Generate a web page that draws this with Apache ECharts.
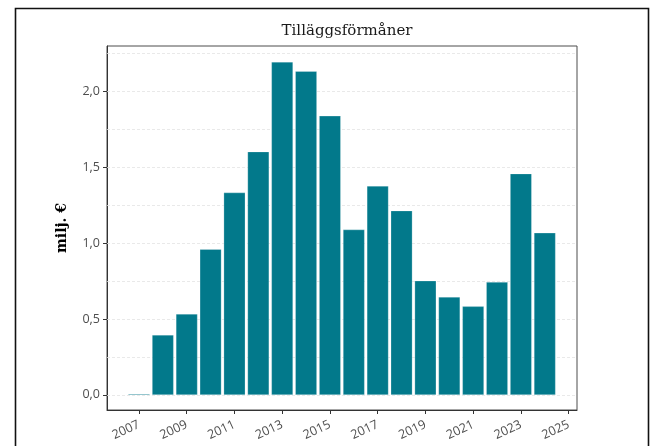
<!DOCTYPE html>
<html>
<head>
<meta charset="utf-8">
<script src="https://cdn.jsdelivr.net/npm/echarts@6/dist/echarts.min.js"></script>
<style>
  html, body { margin: 0; padding: 0; background: #fff; }
  #chart { width: 652px; height: 446px; }
</style>
</head>
<body>
<div id="chart"></div>
<script>
// årtal och värden (milj. €)
const years = [2007, 2008, 2009, 2010, 2011, 2012, 2013, 2014, 2015, 2016, 2017, 2018, 2019, 2020, 2021, 2022, 2023, 2024]
const values = [0.004, 0.395, 0.533, 0.96, 1.333, 1.603, 2.195, 2.133, 1.839, 1.089, 1.377, 1.214, 0.752, 0.645, 0.583, 0.743, 1.458, 1.068]
const xTicks = [2007, 2009, 2011, 2013, 2015, 2017, 2019, 2021, 2023, 2025]
const yTicks = [0, 0.5, 1.0, 1.5, 2.0]
const gridValues = [0, 0.25, 0.5, 0.75, 1.0, 1.25, 1.5, 1.75, 2.0, 2.25]

const chart = echarts.init(document.getElementById('chart'))

const labelFont = {
  fontFamily: 'Open Sans',
  fontSize: 12.5,
  color: '#4d4d4d'
}

const option = {
  animation: false,
  backgroundColor: '#fff',
  title: {
    text: 'Tilläggsförmåner',
    left: 342,
    top: 19,
    textAlign: 'center',
    textStyle: {
      fontFamily: 'DejaVu Serif',
      fontWeight: 'normal',
      fontSize: 15,
      color: '#1a1a1a'
    }
  },
  grid: {
    left: 107,
    top: 46,
    width: 470,
    height: 364,
    show: true,
    borderColor: '#4d4d4d',
    borderWidth: 1,
    backgroundColor: '#fff'
  },
  xAxis: {
    type: 'value',
    min: 2005.66,
    max: 2025.35,
    axisLine: { onZero: false, lineStyle: { color: '#333', width: 1 } },
    axisTick: { customValues: xTicks, length: 4, lineStyle: { color: '#333' } },
    splitLine: { show: false },
    axisLabel: {
      ...labelFont,
      customValues: xTicks,
      rotate: 25,
      margin: 14,
      formatter: v => String(v)
    }
  },
  yAxis: {
    type: 'value',
    min: -0.1,
    max: 2.3,
    name: 'milj. €',
    nameLocation: 'middle',
    nameRotate: 90,
    nameGap: 38,
    nameTextStyle: {
      fontFamily: 'DejaVu Serif',
      fontWeight: 'bold',
      fontSize: 14,
      color: '#000'
    },
    axisLine: { show: true, lineStyle: { color: '#333', width: 1 } },
    axisTick: { show: true, customValues: yTicks, length: 4, lineStyle: { color: '#333' } },
    splitLine: { show: false },
    axisLabel: {
      ...labelFont,
      customValues: yTicks,
      margin: 7,
      formatter: v => v.toFixed(1).replace('.', ',')
    }
  },
  graphic: [{
    // yttre ram
    type: 'rect',
    left: 13,
    top: 6,
    shape: { width: 633, height: 460 },
    style: { fill: 'none', stroke: '#111', lineWidth: 1.6 },
    silent: true,
    z: 100
  }],
  series: [{
    type: 'bar',
    z: 3,
    barWidth: 21.5,
    barMinHeight: 1,
    itemStyle: { color: '#02798b', borderColor: 'rgba(255,255,255,0.6)', borderWidth: 0.4 },
    data: years.map((y, i) => [y, values[i]]),
    markLine: {
      silent: true,
      z: 1,
      symbol: 'none',
      label: { show: false },
      lineStyle: { color: '#e3e3e3', type: [3, 2], width: 0.8 },
      data: gridValues.map(v => ({ yAxis: v }))
    }
  }]
}

chart.setOption(option)
</script>
</body>
</html>
